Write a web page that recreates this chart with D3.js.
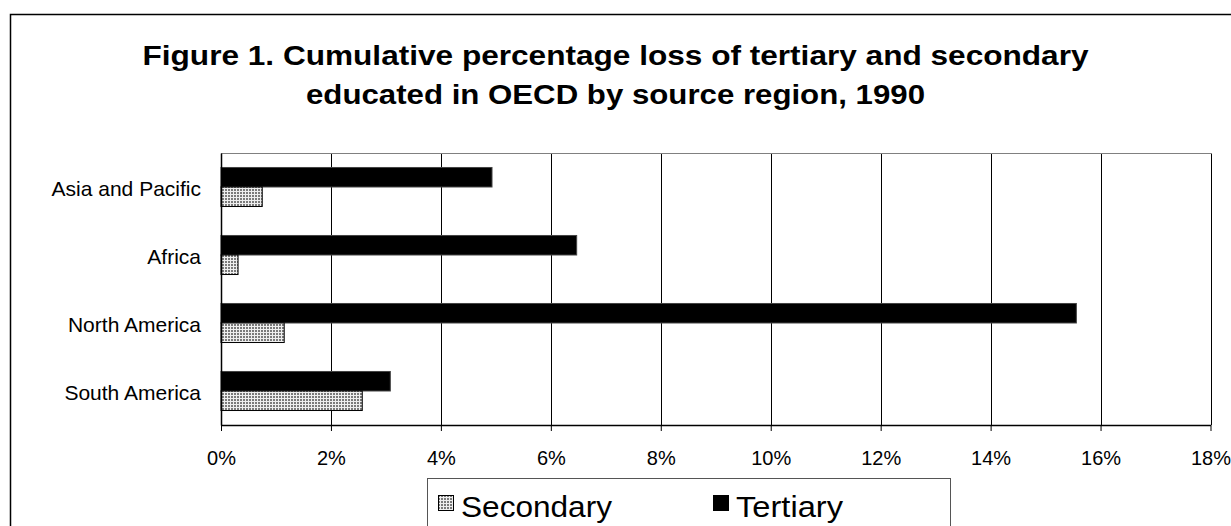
<!DOCTYPE html>
<html>
<head>
<meta charset="utf-8">
<script src="https://cdn.jsdelivr.net/npm/d3@7"></script>
<style>
  html, body { margin: 0; padding: 0; background: #fff; }
  svg { display: block; font-family: "Liberation Sans", Arial, sans-serif; }
</style>
</head>
<body>
<svg id="chart" width="1231" height="526"></svg>
<script>
const titleLines = ["Figure 1. Cumulative percentage loss of tertiary and secondary",
                    "educated in OECD by source region, 1990"];
const categories = ["Asia and Pacific", "Africa", "North America", "South America"];
const seriesNames = ["Tertiary", "Secondary"];
const tertiary = [4.93, 6.47, 15.56, 3.08];
const secondary = [0.75, 0.31, 1.15, 2.57];
const xTicks = [0, 2, 4, 6, 8, 10, 12, 14, 16, 18];
const legendOrder = ["Secondary", "Tertiary"];

const svg = d3.select("#chart");
const W = 1231, H = 526;
const plot = { left: 221, right: 1210.5, top: 153, bottom: 425 };

// pattern for secondary
const defs = svg.append("defs");
const pat = defs.append("pattern").attr("id", "dots")
  .attr("patternUnits", "userSpaceOnUse").attr("width", 3).attr("height", 3);
pat.append("rect").attr("width", 3).attr("height", 3).attr("fill", "#eeeeee");
pat.append("rect").attr("x", 0).attr("y", 0).attr("width", 2).attr("height", 2).attr("fill", "#7a7a7a");

// outer border
svg.append("rect").attr("x", 10.5).attr("y", 14.5).attr("width", W).attr("height", H)
  .attr("fill", "none").attr("stroke", "#000").attr("stroke-width", 1.5);

// title
const titleWidths = [946, 619];
svg.append("g").selectAll("text").data(titleLines).join("text")
  .attr("x", 615.5).attr("y", (d, i) => 65 + i * 39)
  .attr("text-anchor", "middle").attr("font-size", 28).attr("font-weight", "bold")
  .attr("textLength", (d, i) => titleWidths[i]).attr("lengthAdjust", "spacingAndGlyphs")
  .attr("fill", "#000").text(d => d);

const x = d3.scaleLinear().domain([0, 18]).range([plot.left, plot.right]);
const y = d3.scaleBand().domain(categories).range([plot.top, plot.bottom])
  .paddingInner(0.426).paddingOuter(0.213);
const ySub = d3.scaleBand().domain(seriesNames).range([0, y.bandwidth()]);

// gridlines
svg.append("g").selectAll("line").data(xTicks.filter(t => t > 0)).join("line")
  .attr("x1", d => Math.round(x(d)) + 0.5).attr("x2", d => Math.round(x(d)) + 0.5)
  .attr("y1", plot.top).attr("y2", plot.bottom)
  .attr("stroke", "#000").attr("stroke-width", 1);
// top border of plot area
svg.append("line").attr("x1", plot.left).attr("x2", Math.round(plot.right) + 1)
  .attr("y1", plot.top + 0.5).attr("y2", plot.top + 0.5)
  .attr("stroke", "#808080").attr("stroke-width", 1);

// bars
const rows = categories.map((c, i) => ({ cat: c, Tertiary: tertiary[i], Secondary: secondary[i] }));
const g = svg.append("g");
rows.forEach(r => {
  seriesNames.forEach(s => {
    g.append("rect")
      .attr("x", x(0))
      .attr("y", y(r.cat) + ySub(s))
      .attr("width", x(r[s]) - x(0))
      .attr("height", ySub.bandwidth())
      .attr("fill", s === "Tertiary" ? "#000" : "url(#dots)")
      .attr("stroke", s === "Tertiary" ? "#444" : "#000")
      .attr("stroke-width", 1);
  });
});

// x axis
const xAxis = d3.axisBottom(x).tickValues(xTicks).tickFormat(d => d + "%")
  .tickSizeOuter(0).tickSizeInner(6).tickPadding(20);
const gx = svg.append("g").attr("transform", `translate(0,${plot.bottom})`).call(xAxis);
gx.select(".domain").attr("stroke", "#000").attr("stroke-width", 1.5);
gx.selectAll(".tick line").attr("stroke", "#000");
gx.selectAll(".tick text").attr("font-size", 20).attr("fill", "#000")
  .attr("font-family", "Liberation Sans, Arial, sans-serif");

// y axis
const yAxis = d3.axisLeft(y).tickSize(0).tickPadding(20);
const gy = svg.append("g").attr("transform", `translate(${plot.left},0)`).call(yAxis);
gy.select(".domain").attr("stroke", "#000").attr("stroke-width", 1.5);
gy.selectAll(".tick text").attr("font-size", 21).attr("fill", "#000")
  .attr("dy", "0.42em")
  .attr("font-family", "Liberation Sans, Arial, sans-serif");

// legend
const lg = svg.append("g");
lg.append("rect").attr("x", 427.5).attr("y", 478.5).attr("width", 523).attr("height", 80)
  .attr("fill", "#fff").attr("stroke", "#555").attr("stroke-width", 1);
const legendX = [438, 713];
const legendW = [151, 107];
legendOrder.forEach((s, i) => {
  lg.append("rect").attr("x", legendX[i] + 0.5).attr("y", 495.5).attr("width", 15).attr("height", 15)
    .attr("fill", s === "Tertiary" ? "#000" : "url(#dots)")
    .attr("stroke", "#000").attr("stroke-width", 1);
  lg.append("text").attr("x", legendX[i] + 23).attr("y", 517)
    .attr("font-size", 30).attr("fill", "#000")
    .attr("textLength", legendW[i]).attr("lengthAdjust", "spacingAndGlyphs").text(s);
});
</script>
</body>
</html>
